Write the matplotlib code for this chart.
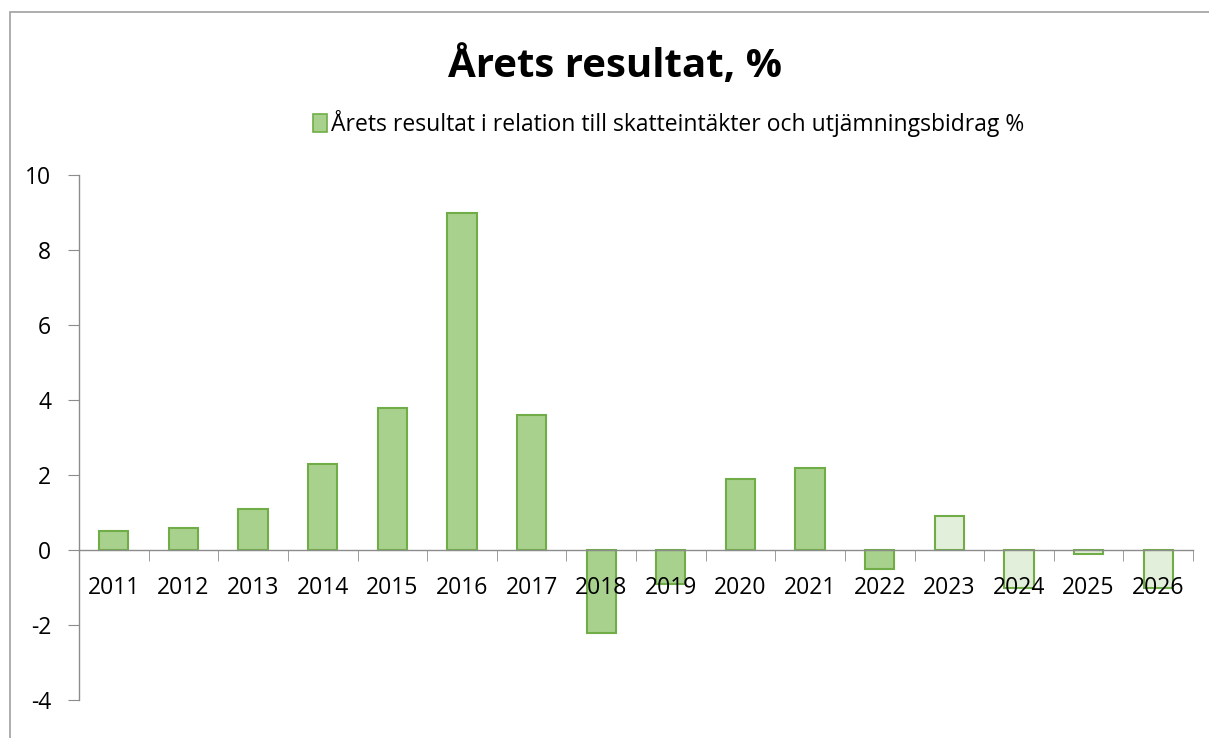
import numpy as np
import matplotlib.pyplot as plt
from matplotlib.patches import Rectangle, Patch

plt.rcParams['font.family'] = ['Open Sans', 'DejaVu Sans']

# data
years = ['2011', '2012', '2013', '2014', '2015', '2016', '2017', '2018',
         '2019', '2020', '2021', '2022', '2023', '2024', '2025', '2026']
result = [0.5, 0.6, 1.1, 2.3, 3.8, 9.0, 3.6, -2.2,
          -0.9, 1.9, 2.2, -0.5, 0.9, -1.0, -0.1, -1.0]
forecast_from = '2023'

fill_dark = '#A9D18E'
fill_light = '#E2EFDA'
edge = '#70AD47'
axis_grey = '#8C8C8C'

fig = plt.figure(figsize=(12.09, 7.38), dpi=100)

# chart area border (cropped at right/bottom in the reference)
fig.patches.append(Rectangle((10 / 1209, -0.1), 1.2, 1 - 12 / 738 + 0.1,
                             transform=fig.transFigure, fill=False,
                             edgecolor='#A0A0A0', linewidth=1.2))

ax = fig.add_axes([79 / 1209, 1 - 700 / 738, (1193 - 79) / 1209, (700 - 175) / 738])

x_pos = np.arange(len(years))
start = years.index(forecast_from)
colors = [fill_dark if i < start else fill_light for i in range(len(years))]
# bars under the axis so the year labels sit on top of them
ax.bar(x_pos, result, width=0.42, color=colors, edgecolor=edge, linewidth=1.5, zorder=1)

ax.set_xlim(-0.5, len(years) - 0.5)
ax.set_ylim(-4, 10)
ax.set_yticks(np.arange(-4, 11, 2))
ax.set_yticklabels([str(v) for v in range(-4, 11, 2)], fontsize=16.5)

ax.spines['bottom'].set_position(('data', 0))
ax.spines['top'].set_visible(False)
ax.spines['right'].set_visible(False)
for s in ('bottom', 'left'):
    ax.spines[s].set_color(axis_grey)
    ax.spines[s].set_linewidth(1.0)

ax.set_xticks(x_pos)
ax.set_xticklabels(years, fontsize=16.5)
ax.set_xticks(np.arange(-0.5, len(years)), minor=True)
ax.tick_params(axis='x', which='major', length=0, pad=19)
ax.tick_params(axis='x', which='minor', length=8, color=axis_grey, direction='out')
ax.tick_params(axis='y', length=8, color=axis_grey, pad=12)

fig.text(0.509, 0.91, 'Årets resultat, %', ha='center', va='center',
         fontsize=29, fontweight='bold')

handle = Patch(facecolor=fill_dark, edgecolor=edge, linewidth=1.2)
fig.legend([handle], ['Årets resultat i relation till skatteintäkter och utjämningsbidrag %'],
           loc='center', bbox_to_anchor=(0.553, 0.833), frameon=False, fontsize=16.5,
           handlelength=0.6, handleheight=0.8, handletextpad=0.2)

fig.savefig('out.png', dpi=100)
